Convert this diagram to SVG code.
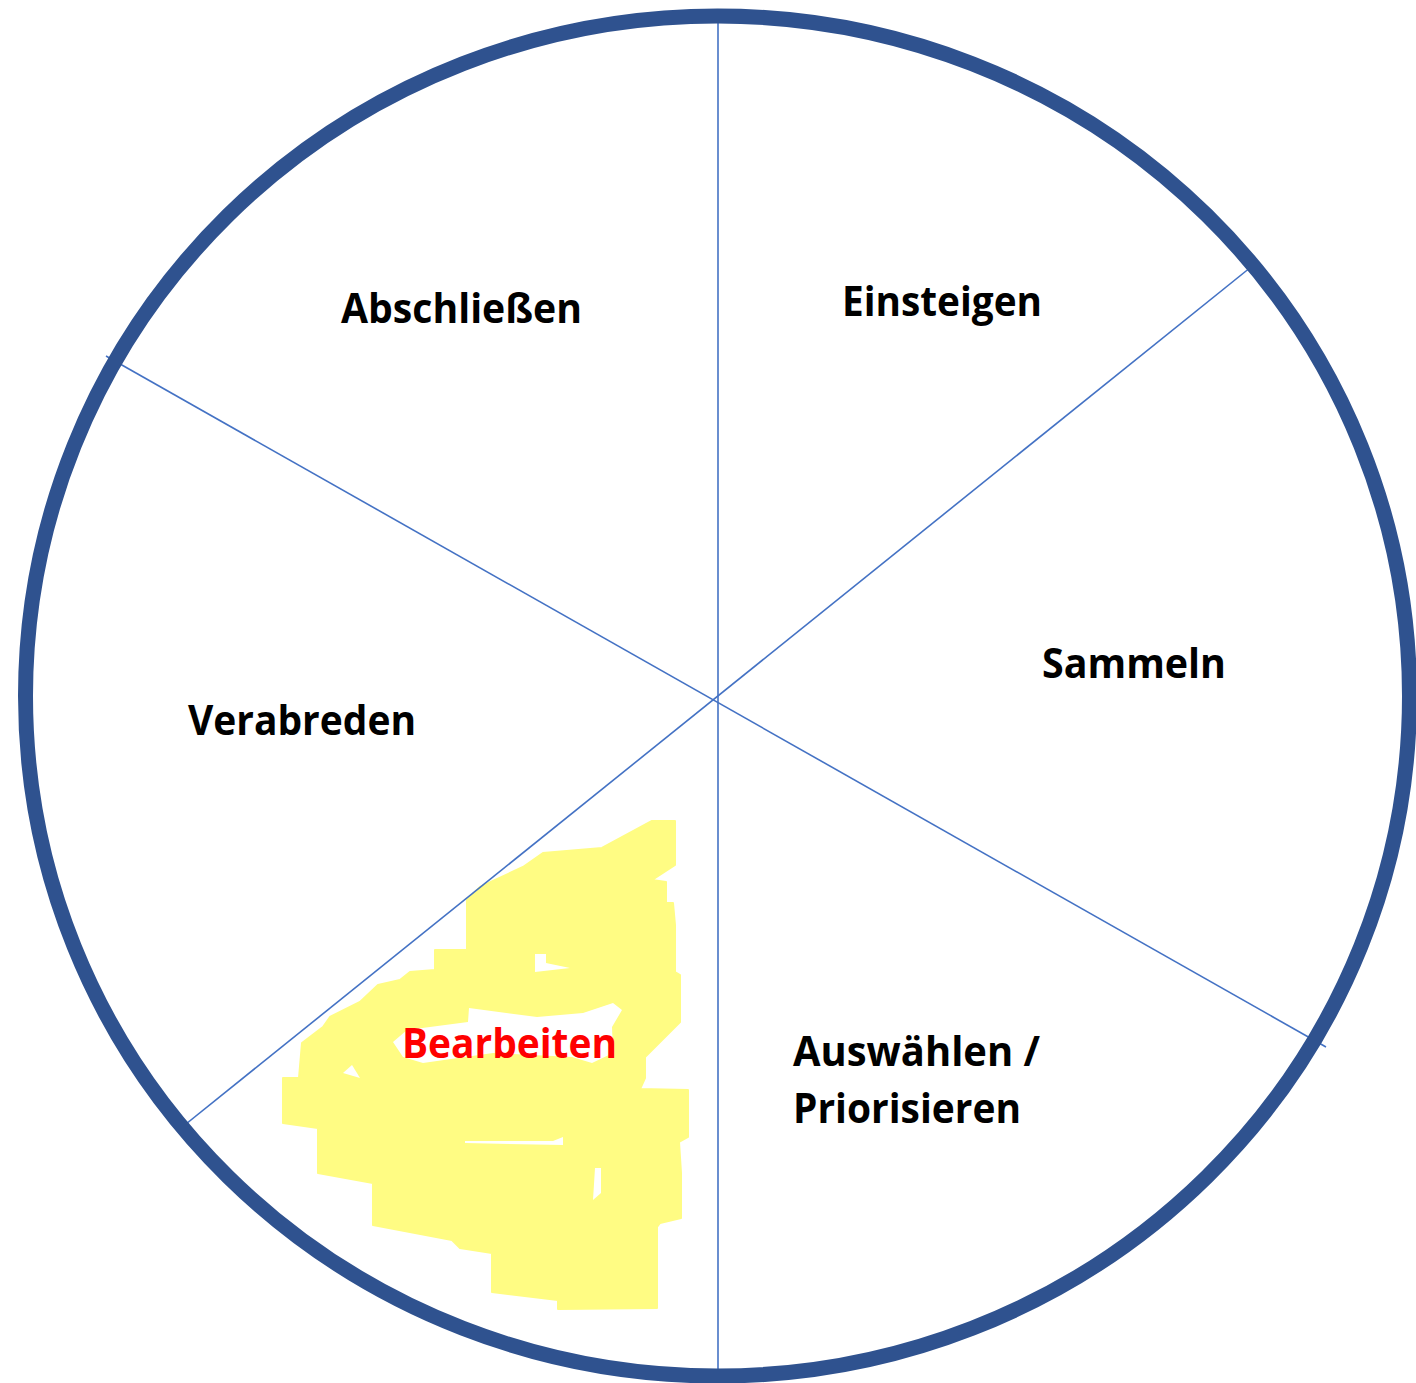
<svg xmlns="http://www.w3.org/2000/svg" width="1416" height="1383" viewBox="0 0 1416 1383">
<style>
.lbl{font-family:"Open Sans","Noto Sans","Liberation Sans",sans-serif;font-weight:bold;font-size:42px;fill:#000}
.red{fill:#FF0000}
.div{stroke:#4472C4;stroke-width:1.6;fill:none}
.hl{fill:#FFFC83;stroke:#FFFC83;stroke-width:2;stroke-linejoin:round}
.hole{fill:#FFFFFF;stroke:none}
</style>
<rect width="1416" height="1383" fill="#FFFFFF"/>
<g id="highlight">
<polygon class="hl" points="652,821 675,821 675,865 652,880 666,882 666,903 673,903 675,925 675,972 680,975 680,1022 645,1057 645,1078 640,1089 688,1090 688,1137 679,1142 681,1173 681,1218 660,1223 657,1227 657,1308 558,1309 558,1300 492,1292 492,1253 460,1248 452,1240 373,1225 373,1183 318,1173 318,1128 283,1123 283,1078 299,1078 302,1043 323,1027 330,1017 360,1002 378,985 400,980 410,972 435,970 435,950 467,950 467,900 480,887 523,867 543,853 602,848"/>
<polygon class="hole" points="393,1042 407,1030 468,1022 469,1008 537,1017 583,1013 613,1003 622,1010 612,1027 613,1053 592,1063 572,1057 493,1053 423,1063 403,1057"/>
<polygon class="hole" points="535,954 546,954 546,963 570,968 535,972"/>
<polygon class="hole" points="343,1073 352,1065 360,1078"/>
<polygon class="hole" points="465,1141 553,1141 563,1137 563,1145 465,1143"/>
<polygon class="hole" points="595,1168 601,1168 601,1193 593,1200"/>
</g>
<g id="connectors">
<line class="div" x1="718" y1="17" x2="718" y2="1377"/>
<line class="div" x1="1256" y1="263" x2="181" y2="1128"/>
<line class="div" x1="106" y1="356" x2="1326" y2="1047"/>
</g>
<g id="ring">
<ellipse cx="717.5" cy="696" rx="692" ry="680" fill="none" stroke="#2F528F" stroke-width="15"/>
</g>
<g id="node-abschliessen"><text class="lbl" x="341" y="323" textLength="241" lengthAdjust="spacingAndGlyphs">Abschließen</text></g>
<g id="node-einsteigen"><text class="lbl" x="842" y="316" textLength="200" lengthAdjust="spacingAndGlyphs">Einsteigen</text></g>
<g id="node-sammeln"><text class="lbl" x="1042" y="678" textLength="184" lengthAdjust="spacingAndGlyphs">Sammeln</text></g>
<g id="node-verabreden"><text class="lbl" x="188" y="735" textLength="228" lengthAdjust="spacingAndGlyphs">Verabreden</text></g>
<g id="node-auswaehlen"><text class="lbl" x="793" y="1066" textLength="247" lengthAdjust="spacingAndGlyphs">Auswählen /</text><text class="lbl" x="793" y="1123" textLength="228" lengthAdjust="spacingAndGlyphs">Priorisieren</text></g>
<g id="node-bearbeiten"><text class="lbl red" x="402" y="1058" textLength="215" lengthAdjust="spacingAndGlyphs">Bearbeiten</text></g>
</svg>
